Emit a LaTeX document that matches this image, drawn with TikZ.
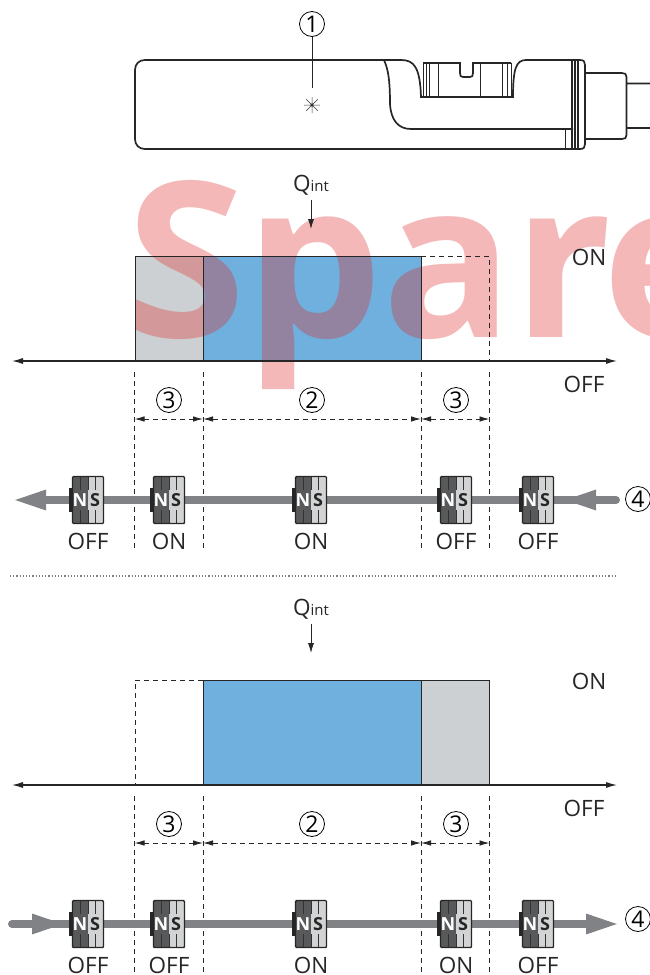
\documentclass[tikz,border=0pt]{standalone}
\usepackage{fontspec}
\setmainfont{Open Sans}
\usetikzlibrary{arrows.meta, calc, positioning}
\definecolor{pulseblue}{RGB}{112,176,222}
\definecolor{pulsegray}{RGB}{205,208,210}
\definecolor{roadgray}{RGB}{128,130,133}
\definecolor{northgray}{RGB}{88,89,91}
\definecolor{southgray}{RGB}{209,211,212}
\definecolor{markred}{RGB}{224,34,34}
\tikzset{
    x=1pt, y=-1pt,
    every node/.style={inner sep=0pt, outer sep=0pt},
    txt/.style={font=\fontsize{22.5}{22.5}\selectfont, text=black!85},
    numcircle/.style={draw, circle, line width=0.8pt, minimum size=25pt, font=\fontsize{23}{23}\selectfont},
    devline/.style={line width=1.7pt, black!85},
    thinline/.style={line width=0.8pt, black!85},
    dashline/.style={line width=0.9pt, black!85, dash pattern=on 5pt off 4pt},
    dimline/.style={dashline, {Latex[length=10pt,width=5.5pt]}-{Latex[length=10pt,width=5.5pt]}},
    axisline/.style={line width=1.1pt, black!85, {Latex[length=11pt,width=6pt]}-{Latex[length=11pt,width=6pt]}},
    rodline/.style={line width=8pt, roadgray, line cap=round},
    rodhead/.style={line width=8pt, roadgray, -{Triangle[length=34pt,width=18pt]}},
}
\newcommand{\magnet}[3]{
    \begin{scope}[shift={(#2)}]
        \fill[black!85] (-19,-12) rectangle (-15,12);
        \fill[northgray] (-15.5,-23.5) rectangle (0,23.5);
        \fill[southgray] (0,-23.5) rectangle (15.5,23.5);
        \draw[line width=0.8pt, black!80] (-8,-23) -- (-8,-10) (-8,10) -- (-8,23) (0,-23) -- (0,-10) (0,10) -- (0,23) (7.5,-23) -- (7.5,-10) (7.5,10) -- (7.5,23);
        \draw[line width=1.4pt, black!85, rounded corners=1pt] (-15.5,-23.5) rectangle (15.5,23.5);
        \node[font=\bfseries\fontsize{18}{18}\selectfont, text=white] (#1-n) at (-8,0) {N};
        \node[font=\bfseries\fontsize{18}{18}\selectfont, text=black!85] (#1-s) at (7,0) {S};
        \node[txt] (#1-l) at (0,41) {#3};
    \end{scope}
}
\newcommand{\qint}[2]{
    \node[txt] (#1) at (#2) {Q{\fontsize{15}{15}\selectfont int}};
    \coordinate (#1-a) at ($(#1) + (0, 15)$);
    \coordinate (#1-b) at ($(#1) + (0, 44)$);
    \draw[thinline, -{Latex[length=10pt,width=6pt]}] (#1-a) -- (#1-b);
}
\begin{document}
\begin{tikzpicture}
    \useasboundingbox (0,0) rectangle (650,975);
    % sensor
    \draw[devline]
    (145,60) -- (401,60) .. controls (414,60) and (420,67) .. (421,97) -- (513,97)
    .. controls (513,69) and (516,60) .. (526,60) -- (580,60)
    .. controls (584,60) and (585,62) .. (585,65) -- (585,144)
    .. controls (585,147) and (584,149) .. (580,149) -- (145,149)
    .. controls (139,149) and (135,145) .. (135,139) -- (135,70)
    .. controls (135,64) and (139,60) .. (145,60) -- cycle;
    \draw[devline]
    (384,60) .. controls (388,69) and (390,79) .. (390,104) .. controls (391,120) and (398,129) .. (411,129) -- (573,129);
    \draw[devline]
    (423,63) -- (460,63) -- (460,73) .. controls (460,76) and (461,77) .. (463,77) -- (470,77) .. controls (472,77) and (473,76) .. (473,73) -- (473,63) -- (511,63);
    \draw[thinline]
    (423,63) -- (423,97) (426,63) -- (426,97) (429,63) -- (429,97) (438.5,63) -- (438.5,97) (480,63) -- (480,97) (502,63) -- (502,97) (507,63) -- (507,97) (511,63) -- (511,97)
    (565,129) -- (565,149);
    \draw[line width=1.2pt, black!85]
    (572,60) -- (572,149) (575,60) -- (575,149) (578,60) -- (578,149);
    \draw[devline]
    (585,73) -- (622,73) .. controls (625,73) and (626.5,74) .. (626.5,77) -- (626.5,135) .. controls (626.5,138) and (625,139) .. (622,139) -- (585,139)
    (626.5,83.5) -- (650,83.5)
    (626.5,128) -- (650,128);
    \node[numcircle] (one) at (312,24) {1};
    \node[minimum size=0pt] (led) at (312,105) {};
    \coordinate (ledtop) at (312,88);
    \draw[thinline] (one) -- (ledtop);
    \fill[black] (led) circle (1.7);
    \draw[line width=0.5pt, black!80]
    (304,105) -- (320,105) (312,97) -- (312,113) (306.3,99.3) -- (317.7,110.7) (306.3,110.7) -- (317.7,99.3);
    % upper pulse
    \node[fill=pulsegray, minimum width=68.5pt, minimum height=105pt, anchor=north west] (ugray) at (135,256) {};
    \node[fill=pulseblue, minimum width=218pt, minimum height=105pt, anchor=north west] (ublue) at (203,256) {};
    % lower pulse
    \node[fill=pulseblue, minimum width=218pt, minimum height=105pt, anchor=north west] (lblue) at (203,680) {};
    \node[fill=pulsegray, minimum width=68.5pt, minimum height=105pt, anchor=north west] (lgray) at (421,680) {};
    % watermark
    \begin{scope}
        \clip (0,0) rectangle (650,975);
        \node[anchor=base west, text=markred, opacity=0.32, font=\bfseries\fontsize{217}{217}\selectfont] (mark) at (126,337) {Spar\kern-10pt e};
    \end{scope}
    % upper pulse lines
    \draw[thinline, line width=1pt] (ugray.south west) -- (ugray.north west) -- (ublue.north east) -- (ublue.south east) (ublue.north west) -- (ublue.south west);
    \coordinate (uend) at (489.5,256);
    \coordinate (uendb) at (489.5,361);
    \draw[dashline] (ublue.north east) -- (uend) -- (uendb);
    \coordinate (uaxl) at (12,361);
    \coordinate (uaxr) at (617,361);
    \draw[axisline] (uaxl) -- (uaxr);
    \qint{uq}{311,185}
    \node[txt] (uon) at (589,257) {ON};
    \node[txt] (uoff) at (584,384) {OFF};
    % lower pulse lines
    \draw[thinline, line width=1pt] (lblue.south west) -- (lblue.north west) -- (lgray.north east) -- (lgray.south east) (lblue.north east) -- (lblue.south east);
    \coordinate (lend) at (135,680);
    \coordinate (lendb) at (135,785);
    \draw[dashline] (lblue.north west) -- (lend) -- (lendb);
    \coordinate (laxl) at (12,785);
    \coordinate (laxr) at (617,785);
    \draw[axisline] (laxl) -- (laxr);
    \qint{lq}{311,609}
    \node[txt] (lon) at (589,681) {ON};
    \node[txt] (loff) at (584,808) {OFF};
    % dashed guides and dimensions
    \foreach \y/\lab in {372/u, 796/l}{
        \coordinate (\lab1t) at (134.5,\y);
        \coordinate (\lab2t) at (203,\y);
        \coordinate (\lab3t) at (421,\y);
        \coordinate (\lab4t) at (489.5,\y);
        \coordinate (\lab1b) at (134.5,\y+176);
        \coordinate (\lab2b) at (203,\y+176);
        \coordinate (\lab3b) at (421,\y+176);
        \coordinate (\lab4b) at (489.5,\y+176);
        \coordinate (\lab1d) at (134.5,\y+47);
        \coordinate (\lab2d) at (203,\y+47);
        \coordinate (\lab3d) at (421,\y+47);
        \coordinate (\lab4d) at (489.5,\y+47);
        \node[numcircle] (\lab th1) at (169,\y+28) {3};
        \node[numcircle] (\lab tw) at (312,\y+28) {2};
        \node[numcircle] (\lab th2) at (456,\y+28) {3};
        \draw[dashline] (\lab1t) -- (\lab1b) (\lab2t) -- (\lab2b) (\lab3t) -- (\lab3b) (\lab4t) -- (\lab4b);
        \draw[dimline] (\lab1d) -- (\lab2d);
        \draw[dimline] (\lab2d) -- (\lab3d);
        \draw[dimline] (\lab3d) -- (\lab4d);
    }
    % upper rod
    \coordinate (urs) at (616,500);
    \coordinate (urm) at (562,500);
    \coordinate (ure) at (12,500);
    \draw[rodline] (urs) -- (urm);
    \draw[rodhead] (urs) -- (urm);
    \draw[rodhead] (urm) -- (ure);
    \magnet{ua}{88,500}{OFF}
    \magnet{ub}{169,500}{ON}
    \magnet{uc}{311,500}{ON}
    \magnet{ud}{456,500}{OFF}
    \magnet{ue}{538,500}{OFF}
    \node[numcircle] (ufour) at (638,499) {4};
    % separator
    \coordinate (sepl) at (10,576);
    \coordinate (sepr) at (617,576);
    \draw[line width=1.2pt, roadgray, dash pattern=on 1.2pt off 2pt] (sepl) -- (sepr);
    % lower rod
    \coordinate (lrs) at (12,924);
    \coordinate (lrm) at (66,924);
    \coordinate (lre) at (620,924);
    \draw[rodline] (lrs) -- (lrm);
    \draw[rodhead] (lrs) -- (lrm);
    \draw[rodhead] (lrm) -- (lre);
    \magnet{la}{88,924}{OFF}
    \magnet{lb}{169,924}{OFF}
    \magnet{lc}{311,924}{ON}
    \magnet{ld}{456,924}{ON}
    \magnet{le}{538,924}{OFF}
    \node[numcircle] (lfour) at (638,919) {4};
\end{tikzpicture}
\end{document}
